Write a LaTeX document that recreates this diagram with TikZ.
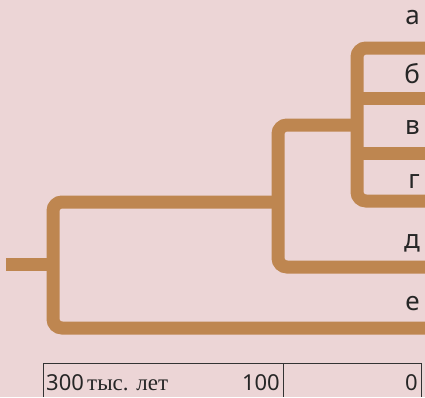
\documentclass[tikz,border=0pt]{standalone}
\usepackage{fontspec}
\setmainfont{Noto Sans}
\newfontfamily\scaleserif{Liberation Serif}
\definecolor{bgpink}{RGB}{236,213,214}
\definecolor{branchtan}{RGB}{190,134,80}
\begin{document}
\begin{tikzpicture}[x=1pt, y=-1pt,
    branch/.style={draw=branchtan, line width=13pt, rounded corners=9pt},
    leaf/.style={anchor=base east, inner sep=0pt, text=black!85,
        font=\fontsize{26}{26}\selectfont},
    timeaxis/.style={draw=black!80, line width=0.9pt},
    scalenum/.style={inner sep=0pt, text=black!85, font=\fontsize{22}{22}\selectfont}
]
% ---- 背景 ----
\fill[bgpink] (0,0) rectangle (425,397);
\useasboundingbox (0,0) rectangle (425,397);

% ---- 分叉点 ----
\coordinate (root)  at (6,264);
\coordinate (outer) at (53,264);
\coordinate (mid)   at (278,202);
\coordinate (inner) at (357,125);

% ---- 根与外层分支 ----
\draw[branch] (root) -- (outer);
\draw[branch] (mid) -- (53,202) -- (53,328) -- (425,328);

% ---- 中层分支 ----
\draw[branch] (inner) -- (278,125) -- (278,267) -- (425,267);

% ---- 内层分支 ----
\draw[branch] (425,48) -- (357,48) -- (357,201) -- (425,201);
\foreach \yy in {98, 153} {
    \draw[branch] (357,\yy) -- (425,\yy);
}

% ---- 末端标注 ----
\foreach \name/\yy/\txt in {a/24/а, b/83/б, c/134/в, d/188/г, e/248/д, f/310/е} {
    \node[leaf] (leaf-\name) at (420,\yy) {\txt};
}

% ---- 时间轴 ----
\coordinate (t300) at (43,363);
\coordinate (t100) at (283,363);
\coordinate (t0)   at (421,363);
\draw[timeaxis] (t300) ++(0,34) -- (t300) -- (t0) -- ++(0,34);
\draw[timeaxis] (t100) -- ++(0,34);

\node[scalenum, anchor=base west] (n300) at (46,390) {300};
\node[inner sep=0pt, anchor=base west, text=black!85,
    font=\scaleserif\fontsize{23}{23}\selectfont] (unit) at (87,390) {тыс. лет};
\node[scalenum, anchor=base east] (n100) at (280,390) {100};
\node[scalenum, anchor=base east] (n0) at (418,390) {0};
\end{tikzpicture}
\end{document}
